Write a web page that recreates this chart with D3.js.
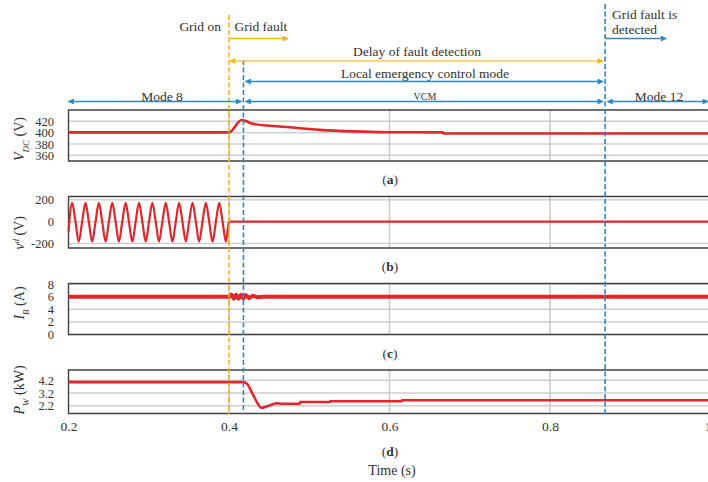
<!DOCTYPE html>
<html>
<head>
<meta charset="utf-8">
<script src="https://cdn.jsdelivr.net/npm/d3@7"></script>
<style>
  body { margin: 0; background: #fff; }
  svg text { font-family: "Liberation Serif", "DejaVu Serif", serif; fill: #333; }
</style>
</head>
<body>
<div id="chart"></div>
<script>
// ---- data ----
const xTicks = [0.2, 0.4, 0.6, 0.8, 1.0];
const vdcTicks = [360, 380, 400, 420];
const vdTicks = [-200, 0, 200];
const ibTicks = [0, 2, 4, 6, 8];
const pwTicks = [2.2, 3.2, 4.2];

const vdcPoints = [
  [0.2, 400.5], [0.3, 400.5], [0.4, 400.5], [0.4157, 422.4], [0.43, 415.5],
  [0.4717, 410], [0.5132, 405], [0.5547, 402.2], [0.5963, 400.8],
  [0.6668, 400.5], [0.667, 398.6], [1.0, 398.6]
];

const vdPoints = [
  [0.2, -90], [0.2045, 172], [0.2087, 0], [0.2128, -182], [0.2170, 0],
  [0.2212, 172], [0.2253, 0], [0.2295, -182], [0.2337, 0],
  [0.2378, 172], [0.2420, 0], [0.2462, -182], [0.2503, 0],
  [0.2545, 172], [0.2587, 0], [0.2628, -182], [0.2670, 0],
  [0.2712, 172], [0.2753, 0], [0.2795, -182], [0.2837, 0],
  [0.2878, 172], [0.2920, 0], [0.2962, -182], [0.3003, 0],
  [0.3045, 172], [0.3087, 0], [0.3128, -182], [0.3170, 0],
  [0.3212, 172], [0.3253, 0], [0.3295, -182], [0.3337, 0],
  [0.3378, 172], [0.3420, 0], [0.3462, -182], [0.3503, 0],
  [0.3545, 172], [0.3587, 0], [0.3628, -182], [0.3670, 0],
  [0.3712, 172], [0.3753, 0], [0.3795, -182], [0.3837, 0],
  [0.3878, 172], [0.3920, 0], [0.3962, -182], [0.4, 0],
  [0.6, 0], [1.0, 0]
];

const ibPoints = [
  [0.2, 6.0], [0.4, 6.0], [0.403, 6.35], [0.406, 5.7], [0.409, 6.3], [0.412, 5.7],
  [0.415, 6.3], [0.418, 5.75], [0.421, 6.25], [0.425, 5.8], [0.43, 6.15],
  [0.436, 5.9], [0.442, 6.0], [1.0, 6.0]
];

const pwPoints = [
  [0.2, 4.05], [0.4177, 4.05], [0.422, 3.95], [0.43, 3.05], [0.4406, 2.04],
  [0.4485, 2.18], [0.4593, 2.40], [0.4671, 2.36], [0.4883, 2.36], [0.4885, 2.5],
  [0.5257, 2.5], [0.526, 2.56], [0.6153, 2.56], [0.6155, 2.64], [1.0, 2.64]
];

const eventTimes = { gridOn: 0.4, fault: 0.418, detected: 0.8687 };

// ---- layout ----
const W = 708, H = 482;
const red = "#e3262b", blue = "#2f86c8", gold = "#f2b616", paleGold = "#f7c95a";

const x = d3.scaleLinear().domain([0.2, 1.0]).range([68.5, 710.5]);

const panels = [
  { key: "a", data: vdcPoints, ticks: vdcTicks, domain: [350, 440], top: 110, bottom: 161, labelY: 139, width: 2.6, curve: d3.curveMonotoneX },
  { key: "b", data: vdPoints, ticks: vdTicks, domain: [-240, 230], top: 196.5, bottom: 248, labelY: 233, width: 2.2, curve: d3.curveMonotoneX },
  { key: "c", data: ibPoints, ticks: ibTicks, domain: [0, 8.1], top: 283.5, bottom: 334.5, labelY: 303, width: 4 },
  { key: "d", data: pwPoints, ticks: pwTicks, domain: [1.6, 5.0], top: 370, bottom: 413.5, labelY: 390, width: 2.6, curve: d3.curveMonotoneX }
];

const svg = d3.select("#chart").append("svg")
  .attr("width", W).attr("height", H);

// arrow markers
const defs = svg.append("defs");
function addMarker(id, color) {
  defs.append("marker")
    .attr("id", id)
    .attr("viewBox", "0 0 10 10")
    .attr("refX", 9).attr("refY", 5)
    .attr("markerWidth", 7).attr("markerHeight", 6)
    .attr("markerUnits", "userSpaceOnUse")
    .attr("orient", "auto-start-reverse")
    .append("path")
    .attr("d", "M0,0 L10,5 L0,10 Z")
    .attr("fill", color);
}
addMarker("arrBlue", blue);
addMarker("arrGold", gold);

panels.forEach(p => {
  const y = d3.scaleLinear().domain(p.domain).range([p.bottom, p.top]);
  const g = svg.append("g").attr("class", "panel-" + p.key);

  // horizontal grid
  g.selectAll(".hgrid")
    .data(p.ticks)
    .enter().append("line")
    .attr("x1", x(0.2)).attr("x2", W)
    .attr("y1", d => y(d)).attr("y2", d => y(d))
    .attr("stroke", "#cfcfcf").attr("stroke-width", 1.5);

  // vertical grid
  g.selectAll(".vgrid")
    .data([0.4, 0.6, 0.8])
    .enter().append("line")
    .attr("x1", d => x(d)).attr("x2", d => x(d))
    .attr("y1", p.top).attr("y2", p.bottom)
    .attr("stroke", "#c8c8c8").attr("stroke-width", 1.5);

  // frame
  g.append("path")
    .attr("d", `M${W + 2},${p.top} H${x(0.2)} V${p.bottom} H${W + 2}`)
    .attr("fill", "none")
    .attr("stroke", "#404040").attr("stroke-width", 1.4);

  // y tick labels
  const yAxis = d3.axisLeft(y).tickValues(p.ticks).tickSize(0).tickPadding(0)
    .tickFormat(d => p.key === "d" ? d.toFixed(1) : d);
  const ax = g.append("g").attr("transform", "translate(54,0)").call(yAxis);
  ax.select(".domain").remove();
  ax.selectAll("text")
    .attr("font-size", "12.5px")
    .attr("font-family", "Liberation Serif, serif")
    .attr("fill", "#333");

  // series
  const line = d3.line()
    .x(d => x(d[0]))
    .y(d => y(d[1]))
    .curve(p.curve || d3.curveLinear);

  g.append("path")
    .attr("d", line(p.data))
    .attr("fill", "none")
    .attr("stroke", red)
    .attr("stroke-width", p.width)
    .attr("stroke-linejoin", "round");

  // panel caption
  const cap = svg.append("text")
    .attr("x", 390)
    .attr("y", p.key === "d" ? 456 : p.bottom + 23)
    .attr("text-anchor", "middle")
    .attr("font-size", "13.5px");
  cap.append("tspan").text("(");
  cap.append("tspan").attr("font-weight", "bold").text(p.key);
  cap.append("tspan").text(")");
});

// y titles
function yTitle(cy, parts) {
  const t = svg.append("text")
    .attr("transform", `translate(24,${cy}) rotate(-90)`)
    .attr("text-anchor", "middle")
    .attr("font-size", "14px");
  parts.forEach(pt => {
    const s = t.append("tspan").text(pt.t);
    if (pt.i) s.attr("font-style", "italic");
    if (pt.sub) s.attr("font-size", "9px").attr("baseline-shift", "sub");
    if (pt.sup) s.attr("font-size", "9px").attr("baseline-shift", "super");
    if (pt.back) s.attr("font-size", "14px").attr("baseline-shift", "0");
  });
}
yTitle(panels[0].labelY, [{ t: "V", i: true }, { t: "DC", i: true, sub: true }, { t: " (V)", back: true }]);
yTitle(panels[1].labelY, [{ t: "v", i: true }, { t: "d", i: true, sup: true }, { t: " (V)", back: true }]);
yTitle(panels[2].labelY, [{ t: "I", i: true }, { t: "B", i: true, sub: true }, { t: " (A)", back: true }]);
yTitle(panels[3].labelY, [{ t: "P", i: true }, { t: "W", i: true, sub: true }, { t: " (kW)", back: true }]);

// x axis tick labels
const xAxis = d3.axisBottom(x).tickValues(xTicks).tickSize(0).tickPadding(0)
  .tickFormat(d => d === 1 ? "1" : d.toFixed(1));
const xa = svg.append("g").attr("transform", "translate(0,421)").call(xAxis);
xa.select(".domain").remove();
xa.selectAll("text")
  .attr("font-size", "13.5px")
  .attr("font-family", "Liberation Serif, serif")
  .attr("fill", "#333")
  .attr("dx", d => d === 1 ? -3 : 0);

svg.append("text")
  .attr("x", 392).attr("y", 475)
  .attr("text-anchor", "middle")
  .attr("font-size", "14px")
  .text("Time (s)");

// event lines
function eventLine(t, y1, color) {
  svg.append("line")
    .attr("x1", x(t)).attr("x2", x(t))
    .attr("y1", y1).attr("y2", 414)
    .attr("stroke", color).attr("stroke-width", 1.6)
    .attr("stroke-dasharray", "5,2.5");
}
eventLine(eventTimes.gridOn, 15, gold);
eventLine(eventTimes.fault, 60, blue);
eventLine(eventTimes.detected, 4, blue);

// annotation arrows
function arrow(t0, t1, yy, color, marker, both, x1px) {
  const l = svg.append("line")
    .attr("x1", x(t0)).attr("x2", x1px !== undefined ? x1px : x(t1))
    .attr("y1", yy).attr("y2", yy)
    .attr("stroke", color).attr("stroke-width", 1.3)
    .attr("marker-end", `url(#${marker})`);
  if (both) l.attr("marker-start", `url(#${marker})`);
}
arrow(0.4005, 0.4736, 38.5, gold, "arrGold", false);
arrow(0.4012, 0.866, 61, paleGold, "arrGold", true);
arrow(0.4205, 0.866, 81.5, blue, "arrBlue", true);
arrow(0.2, 0.4155, 101.5, blue, "arrBlue", true);
arrow(0.4205, 0.866, 101.5, blue, "arrBlue", true);
arrow(0.8715, 1.0, 101.5, blue, "arrBlue", true, 708);
arrow(eventTimes.detected, 0.945, 38.5, blue, "arrBlue", false);

// annotation texts
function note(xx, yy, txt, anchor, size) {
  svg.append("text")
    .attr("x", xx).attr("y", yy)
    .attr("text-anchor", anchor)
    .attr("font-size", size || "13.5px")
    .text(txt);
}
note(221, 31, "Grid on", "end");
note(234.5, 31, "Grid fault", "start");
note(417, 56, "Delay of fault detection", "middle");
note(425, 77.5, "Local emergency  control  mode", "middle");
note(162, 100.5, "Mode 8", "middle");
note(425, 99.5, "VCM", "middle", "10px");
note(659, 100.5, "Mode 12", "middle");
note(612, 18.5, "Grid fault is", "start");
note(612, 33.5, "detected", "start");
</script>
</body>
</html>
